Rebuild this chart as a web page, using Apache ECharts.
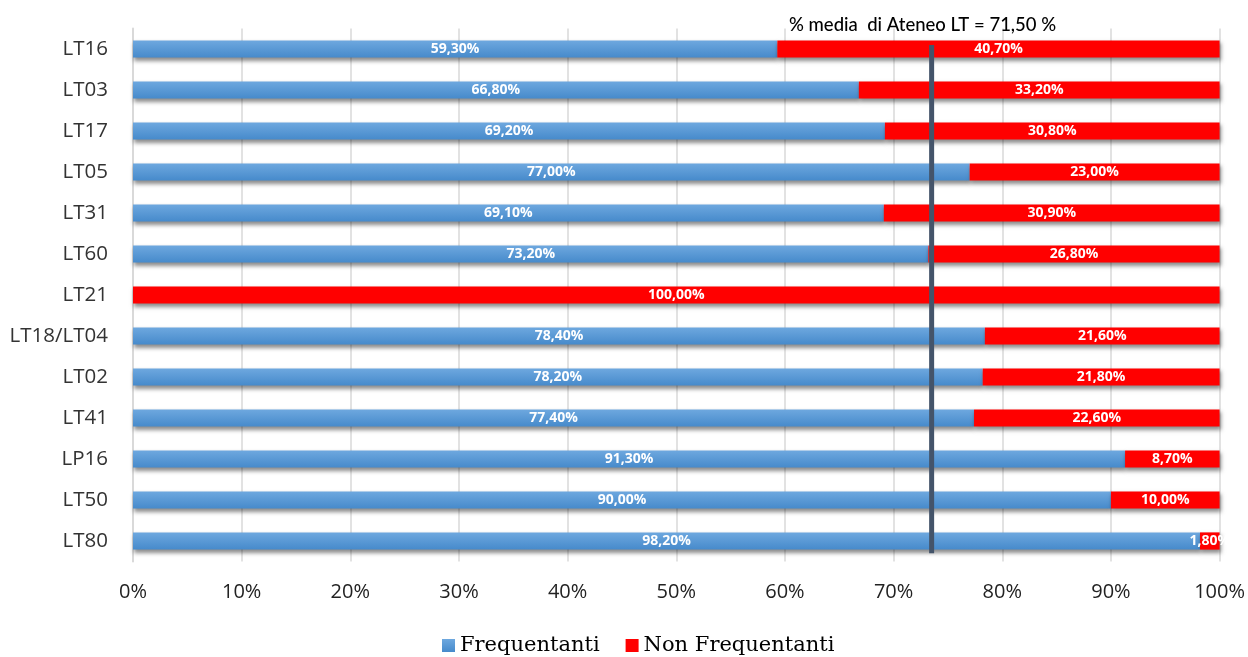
<!DOCTYPE html>
<html>
<head>
<meta charset="utf-8">
<script src="https://cdn.jsdelivr.net/npm/echarts@6/dist/echarts.min.js"></script>
<style>
  html, body { margin: 0; padding: 0; background: #fff; }
  #chart { width: 1248px; height: 657px; }
</style>
</head>
<body>
<div id="chart"></div>
<script>
// corsi di laurea, dall'alto verso il basso
const categories = ['LT16', 'LT03', 'LT17', 'LT05', 'LT31', 'LT60', 'LT21', 'LT18/LT04', 'LT02', 'LT41', 'LP16', 'LT50', 'LT80']
const frequentanti = [59.3, 66.8, 69.2, 77.0, 69.1, 73.2, 0, 78.4, 78.2, 77.4, 91.3, 90.0, 98.2]
const nonFrequentanti = [40.7, 33.2, 30.8, 23.0, 30.9, 26.8, 100, 21.6, 21.8, 22.6, 8.7, 10.0, 1.8]
const xTicks = [0, 10, 20, 30, 40, 50, 60, 70, 80, 90, 100]
// linea della media di Ateneo (posizione come nel grafico originale)
const mediaX = 73.5
const mediaSpan = [0.4, 12.8]
const mediaTitle = '% media  di Ateneo LT = 71,50 %'

const fmt = v => v.toFixed(2).replace('.', ',') + '%'

const barShadow = {
  shadowColor: 'rgba(0,0,0,0.45)',
  shadowBlur: 4,
  shadowOffsetX: 1,
  shadowOffsetY: 3
}

const labelStyle = {
  show: true,
  position: 'inside',
  color: '#fff',
  fontFamily: 'Open Sans',
  fontWeight: 'bold',
  fontSize: 14
}

const chart = echarts.init(document.getElementById('chart'))
chart.setOption({
  animation: false,
  title: {
    text: mediaTitle,
    left: 784,
    top: 11,
    textStyle: { fontFamily: 'Lato', fontSize: 18.5, fontWeight: 500, color: '#000' }
  },
  legend: {
    top: 630,
    left: 437,
    itemWidth: 13,
    itemHeight: 13,
    itemGap: 26,
    icon: 'rect',
    textStyle: { fontFamily: 'DejaVu Serif', fontSize: 21, color: '#000' },
    data: ['Frequentanti', 'Non Frequentanti']
  },
  grid: {
    left: 133,
    right: 27,
    top: 28.5,
    height: 533,
    containLabel: false
  },
  xAxis: {
    type: 'value',
    min: xTicks[0],
    max: xTicks[xTicks.length - 1],
    interval: 10,
    axisLine: { show: false },
    axisTick: { show: false },
    axisLabel: {
      formatter: '{value}%',
      margin: 21,
      fontFamily: 'Open Sans',
      fontSize: 20,
      color: '#222'
    },
    splitLine: { lineStyle: { color: '#d9d9d9', width: 1.5 } }
  },
  yAxis: [{
    type: 'category',
    inverse: true,
    data: categories,
    axisLine: { show: true, lineStyle: { color: '#d9d9d9', width: 2 } },
    axisTick: { show: false },
    axisLabel: {
      margin: 25,
      fontFamily: 'Open Sans',
      fontSize: 20.5,
      color: '#333'
    }
  }, {
    type: 'value',
    show: false,
    inverse: true,
    min: 0,
    max: categories.length
  }],
  series: [{
    name: 'Frequentanti',
    type: 'bar',
    stack: 'tot',
    barCategoryGap: '58%',
    data: frequentanti,
    itemStyle: Object.assign({
      color: new echarts.graphic.LinearGradient(0, 0, 0, 1, [
        { offset: 0, color: '#6ea8df' },
        { offset: 1, color: '#468acb' }
      ])
    }, barShadow),
    label: Object.assign({}, labelStyle, {
      formatter: p => p.value > 0 ? fmt(p.value) : ''
    })
  }, {
    name: 'Non Frequentanti',
    type: 'bar',
    stack: 'tot',
    data: nonFrequentanti,
    itemStyle: Object.assign({ color: '#ff0000' }, barShadow),
    label: Object.assign({}, labelStyle, {
      formatter: p => fmt(p.value)
    })
  }, {
    name: 'media',
    type: 'line',
    yAxisIndex: 1,
    symbol: 'none',
    silent: true,
    data: mediaSpan.map(y => [mediaX, y]),
    lineStyle: { color: '#44546a', width: 5 },
    z: 5
  }]
})
</script>
</body>
</html>
